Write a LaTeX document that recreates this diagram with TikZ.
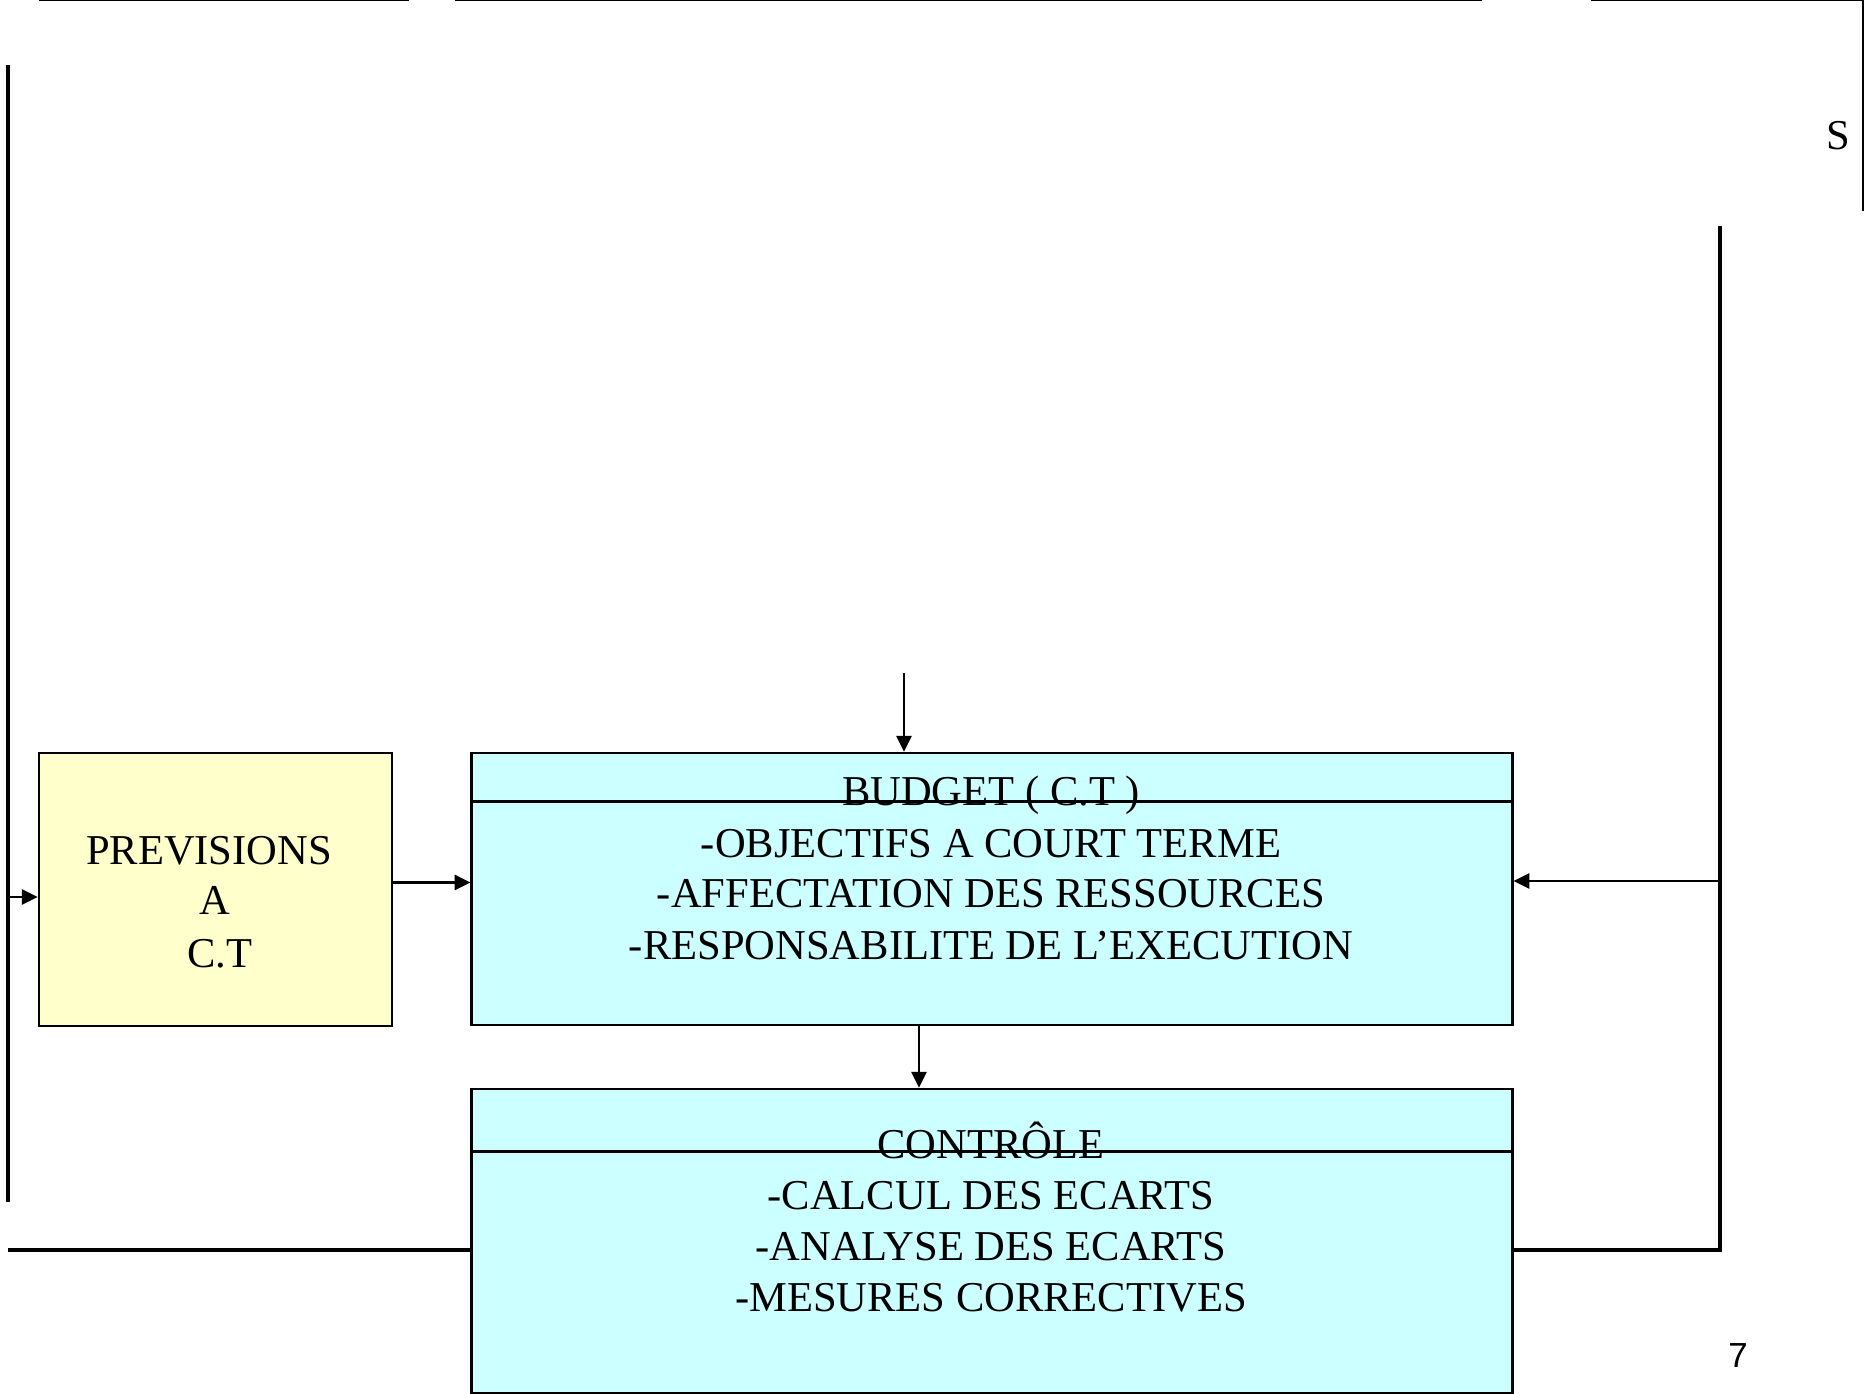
\documentclass[tikz,border=0pt]{standalone}
\usepackage{fontspec}
\setmainfont{Liberation Serif}
\newfontfamily\pagefont{Liberation Sans}
\usetikzlibrary{calc}
\usetikzlibrary{arrows.meta}
\definecolor{prevyellow}{HTML}{FFFFCC}
\definecolor{budcyan}{HTML}{CCFFFF}

\begin{document}
\begin{tikzpicture}[x=0.01cm, y=-0.01cm,
		box/.style={draw, line width=0.7pt, inner sep=0pt},
		lbl/.style={anchor=base, inner sep=0pt, font=\fontsize{12.1}{14}\selectfont},
		flow/.style={-{Triangle[length=4.5pt,width=4.3pt]}, line width=0.7pt},
		fback/.style={line width=1.1pt}]
		\useasboundingbox (0,0) rectangle (1865,1394);

		% Top frame remains
		\coordinate (t1) at (39,0);
		\coordinate (t2) at (409,0);
		\coordinate (t3) at (455,0);
		\coordinate (t4) at (1482,0);
		\coordinate (t5) at (1591,0);
		\coordinate (t6) at (1863,0);
		\coordinate (t7) at (1863,211);
		\draw [line width=0.6pt] (t1) -- (t2);
		\draw [line width=0.6pt] (t3) -- (t4);
		\draw [line width=0.6pt] (t5) -- (t6) -- (t7);
		\node[lbl] (s) at (1838,150) {S};

		% Boxes
		\node[box, fill=prevyellow, minimum width=3.53cm, minimum height=2.73cm] (prev) at (215.5,889.5) {};
		\node[lbl] (prev1) at (209,864) {PREVISIONS};
		\node[lbl] (prev2) at (215,915) {A};
		\node[lbl] (prev3) at (220,968) {C.T};

		\node[box, fill=budcyan, minimum width=10.4cm, minimum height=2.72cm] (budget) at (992,889) {};
		\draw [line width=0.9pt] ($(budget.north west)+(0,50)$) -- ($(budget.north east)+(0,50)$);
		\node[lbl] (bud0) at (991,806) {BUDGET ( C.T )};
		\node[lbl] (bud1) at (991,857) {-OBJECTIFS A COURT TERME};
		\node[lbl] (bud2) at (991,908) {-AFFECTATION DES RESSOURCES};
		\node[lbl] (bud3) at (991,959) {-RESPONSABILITE DE L’EXECUTION};

		\node[box, fill=budcyan, minimum width=10.4cm, minimum height=3.04cm] (ctrl) at (992,1241) {};
		\draw [line width=0.9pt] ($(ctrl.north west)+(0,64)$) -- ($(ctrl.north east)+(0,64)$);
		\node[lbl] (ctrl0) at (991,1158) {CONTRÔLE};
		\node[lbl] (ctrl1) at (991,1209) {-CALCUL DES ECARTS};
		\node[lbl] (ctrl2) at (991,1260) {-ANALYSE DES ECARTS};
		\node[lbl] (ctrl3) at (991,1311) {-MESURES CORRECTIVES};

		% Connections
		\coordinate (budin) at (904,673);
		\coordinate (bc) at (919,1050);
		\draw [flow] (budin) -- (budin |- budget.north);
		\draw [flow] ([yshift=2pt]prev.east) -- ([yshift=2pt]prev.east -| budget.west);
		\draw [flow] (budget.south -| bc) -- (ctrl.north -| bc);

		% Feedback left
		\coordinate (l1) at (8,65);
		\coordinate (l2) at (8,1202);
		\coordinate (l3) at (8,897);
		\coordinate (l4) at (8,1250);
		\draw [fback] (l1) -- (l2);
		\draw [flow] (l3) -- (l3 -| prev.west);
		\draw [fback] (l4 -| ctrl.west) -- (l4);

		% Feedback right
		\coordinate (r1) at (1720,226);
		\coordinate (r2) at (1720,1250);
		\coordinate (r3) at (1720,881);
		\draw [line width=0.9pt] (r2 -| ctrl.east) -- (r2) -- (r1);
		\draw [flow] (r3) -- (r3 -| budget.east);

		\node[anchor=base, inner sep=0pt, font=\pagefont\fontsize{9.9}{12}\selectfont] (page) at (1738,1367) {7};
	\end{tikzpicture}
\end{document}
